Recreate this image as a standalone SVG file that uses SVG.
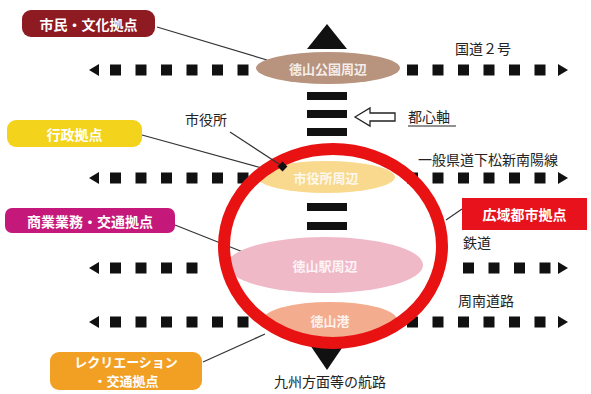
<svg xmlns="http://www.w3.org/2000/svg" xmlns:xlink="http://www.w3.org/1999/xlink" width="591" height="394" viewBox="0 0 591 394">
<defs>
<style>
.dash{stroke:#111;stroke-width:11;stroke-dasharray:11 14.5;fill:none}
.bar{fill:#111}
.lead{stroke:#333;stroke-width:1.2;fill:none}
.lbl{font-family:"Noto Sans CJK JP","Noto Sans",sans-serif;font-size:14px;fill:#222}
.btxt{font-family:"Noto Sans CJK JP","Noto Sans",sans-serif;font-size:14px;font-weight:bold;fill:#fff;text-anchor:middle;dominant-baseline:central}
.stxt{font-size:13px}
.etxt{font-family:"Noto Sans CJK JP","Noto Sans",sans-serif;font-size:13px;font-weight:bold;fill:#fff;text-anchor:middle;dominant-baseline:central;opacity:0.85}
</style>
<polygon id="al" points="89,0 99,-6 99,6" fill="#111"/>
<polygon id="ar" points="568,0 558,-6 558,6" fill="#111"/>
</defs>
<rect width="591" height="394" fill="#fff"/>
<g id="roads">
<line class="dash" x1="110" y1="70" x2="250" y2="70"/>
<line class="dash" x1="407" y1="70" x2="548" y2="70"/>
<use xlink:href="#al" y="70"/><use xlink:href="#ar" y="70"/>
<line class="dash" x1="110" y1="178" x2="250" y2="178"/>
<line class="dash" x1="407" y1="178" x2="548" y2="178"/>
<use xlink:href="#al" y="178"/><use xlink:href="#ar" y="178"/>
<line class="dash" x1="110" y1="268" x2="198" y2="268"/>
<line class="dash" x1="463" y1="268" x2="551" y2="268"/>
<use xlink:href="#al" y="268"/><use xlink:href="#ar" y="268"/>
<line class="dash" x1="110" y1="322" x2="250" y2="322"/>
<line class="dash" x1="407" y1="322" x2="548" y2="322"/>
<use xlink:href="#al" y="322"/><use xlink:href="#ar" y="322"/>
</g>
<g id="axis">
<polygon points="327,24 307,49 347,49" fill="#111"/>
<rect class="bar" x="307" y="92" width="40" height="8"/>
<rect class="bar" x="307" y="110" width="40" height="8"/>
<rect class="bar" x="307" y="128" width="40" height="8"/>
<rect class="bar" x="307" y="203" width="40" height="8"/>
<rect class="bar" x="307" y="222" width="40" height="8"/>
<polygon points="310,345 344,345 327,370" fill="#111"/>
</g>
<g id="connectors">
<line class="lead" x1="157" y1="27" x2="267" y2="60"/>
<line class="lead" x1="142" y1="135" x2="262" y2="168"/>
<line class="lead" x1="175" y1="225" x2="243" y2="252"/>
<line class="lead" x1="203" y1="362" x2="265" y2="334"/>
<line class="lead" x1="462" y1="209" x2="446" y2="220"/>
</g>
<g id="n-tokuyama-park">
<ellipse cx="328" cy="68" rx="72" ry="16" fill="#B8937D"/>
<text class="etxt" x="328" y="68">徳山公園周辺</text>
</g>
<g id="n-shiyakusho-area">
<ellipse cx="326" cy="177" rx="69" ry="16" fill="#F8D98E"/>
<text class="etxt" x="326" y="177">市役所周辺</text>
</g>
<g id="n-station">
<ellipse cx="325" cy="265" rx="98" ry="28" fill="#EFB9C8"/>
<text class="etxt" x="325" y="265">徳山駅周辺</text>
</g>
<g id="n-port">
<ellipse cx="330" cy="320" rx="67" ry="18" fill="#F4AC8E"/>
<text class="etxt" x="330" y="320">徳山港</text>
</g>
<g id="n-wide-area">
<ellipse cx="333" cy="246" rx="109" ry="97" fill="none" stroke="#E81212" stroke-width="12"/>
</g>
<g id="n-shiyakusho">
<text class="lbl" x="206" y="125" text-anchor="middle">市役所</text>
<line class="lead" x1="230" y1="132" x2="282" y2="166"/>
<rect x="279" y="163" width="7" height="7" fill="#111" transform="rotate(45 282.5 166.5)"/>
</g>
<g id="n-toshinjiku">
<polygon points="355,117 370,108 370,113 395,113 395,121 370,121 370,126" fill="#fff" stroke="#222" stroke-width="1.3"/>
<text class="lbl" x="408" y="122">都心軸</text>
<line x1="408" y1="126" x2="456" y2="126" stroke="#222" stroke-width="1.2"/>
</g>
<g id="labels">
<text class="lbl" x="455" y="54">国道２号</text>
<text class="lbl" x="418" y="165">一般県道下松新南陽線</text>
<text class="lbl" x="463" y="248">鉄道</text>
<text class="lbl" x="458" y="306">周南道路</text>
<text class="lbl" x="330" y="387" text-anchor="middle">九州方面等の航路</text>
</g>
<g id="n-shimin">
<rect x="22" y="10" width="133" height="27" rx="9" fill="#8E1A22"/>
<text class="btxt" x="88.5" y="23.5">市民・文化拠点</text>
</g>
<g id="n-gyosei">
<rect x="7" y="120" width="135" height="27" rx="9" fill="#F3D31C"/>
<text class="btxt" x="74.5" y="133.5">行政拠点</text>
</g>
<g id="n-shogyo">
<rect x="5" y="208" width="170" height="25" rx="7" fill="#C4187A"/>
<text class="btxt" x="90" y="220.5">商業業務・交通拠点</text>
</g>
<g id="n-koiki">
<rect x="462" y="198" width="125" height="32" fill="#E8121C"/>
<text class="btxt" x="524.5" y="214">広域都市拠点</text>
</g>
<g id="n-recreation">
<rect x="50" y="352" width="152" height="38" rx="9" fill="#F1A024"/>
<text class="btxt stxt" x="126" y="361.5">レクリエーション</text>
<text class="btxt stxt" x="126" y="380.5">・交通拠点</text>
</g>
</svg>
